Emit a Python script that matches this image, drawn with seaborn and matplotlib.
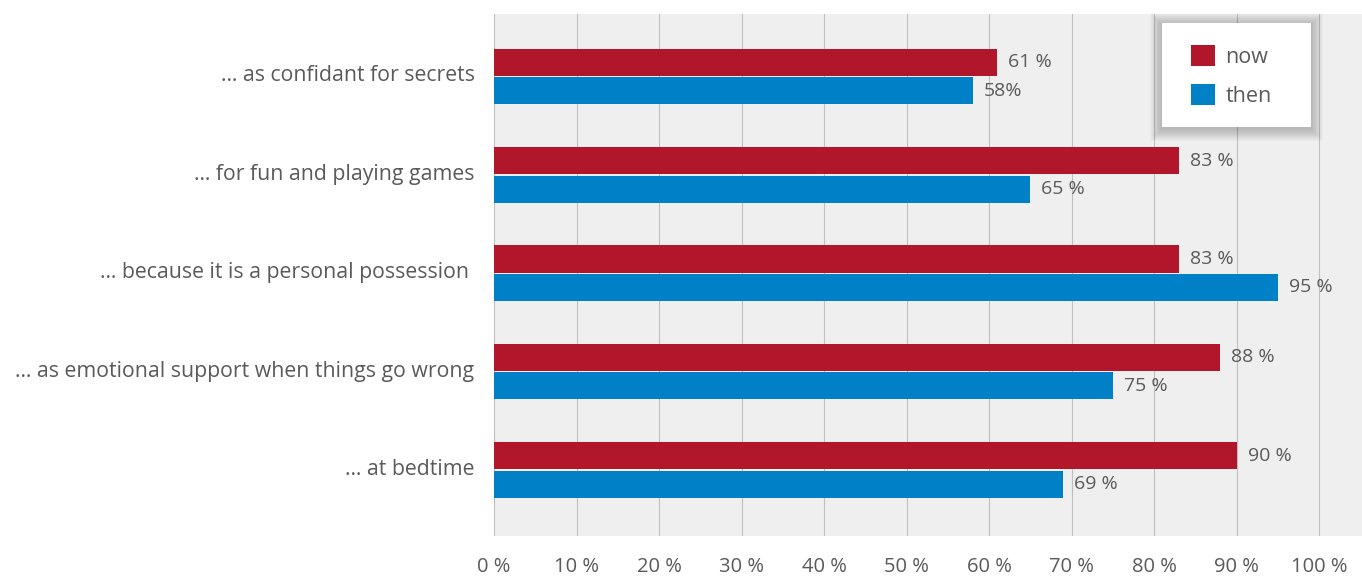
import matplotlib
matplotlib.use("Agg")
import matplotlib.pyplot as plt
from matplotlib.patches import Rectangle
from matplotlib.transforms import ScaledTranslation
import pandas as pd
import seaborn as sns

# Reasons for keeping a cuddly toy, now vs. then
categories = [
    "… as confidant for secrets",
    "… for fun and playing games",
    "… because it is a personal possession ",
    "… as emotional support when things go wrong",
    "… at bedtime",
]
series = ["now", "then"]
now_values = [61, 83, 83, 88, 90]
then_values = [58, 65, 95, 75, 69]
now_labels = ["61 %", "83 %", "83 %", "88 %", "90 %"]
then_labels = ["58%", "65 %", "95 %", "75 %", "69 %"]
x_ticks = list(range(0, 101, 10))
x_tick_labels = [f"{t} %" for t in x_ticks]

RED = "#b2162b"
BLUE = "#0080c6"
TEXT = "#5a5a5a"

sns.set_theme(style="white")
plt.rcParams["font.family"] = ["Open Sans", "DejaVu Sans"]

df = pd.DataFrame({
    "category": categories * 2,
    "series": [series[0]] * len(now_values) + [series[1]] * len(then_values),
    "value": now_values + then_values,
})

W, H = 1362, 576
fig = plt.figure(figsize=(W / 100, H / 100), dpi=100)
ax = fig.add_axes([494 / W, 40 / H, 868 / W, 522 / H])

sns.barplot(
    data=df, x="value", y="category", hue="series",
    order=categories, hue_order=series, palette=[RED, BLUE],
    orient="h", width=0.58, gap=0.05, saturation=1,
    linewidth=0, legend=False, ax=ax,
)

ax.set_xlim(0, 105.2)
ax.set_ylim(4.671, -0.635)
ax.set_facecolor("#efefef")
ax.grid(axis="x", color="#bfbfbf", linewidth=0.8)
ax.grid(axis="y", visible=False)
ax.set_axisbelow(True)
for sp in ax.spines.values():
    sp.set_visible(False)

ax.set_xticks(x_ticks, x_tick_labels)
ax.tick_params(axis="x", length=0, pad=15, labelsize=14.5, labelcolor=TEXT)
ax.tick_params(axis="y", length=0, pad=14, labelsize=15.3, labelcolor=TEXT)
ax.set_xlabel("")
ax.set_ylabel("")
lift = ScaledTranslation(0, 0.03, fig.dpi_scale_trans)
for lab in ax.get_yticklabels():
    lab.set_transform(lab.get_transform() + lift)

# value labels next to each bar
ax.bar_label(ax.containers[0], labels=now_labels, padding=8, fontsize=14, color=TEXT)
ax.bar_label(ax.containers[1], labels=then_labels, padding=8, fontsize=14, color=TEXT)

# legend: white card with a soft shadow
bx, by, bw, bh = 1162, H - 127, 149, 104
px = 1 / 100
for d in range(1, 13):
    ax.add_patch(Rectangle(
        ((bx - d) * px, (by - d - 2) * px), (bw + 2 * d) * px, (bh + 2 * d) * px,
        transform=fig.dpi_scale_trans, facecolor="black", edgecolor="none",
        alpha=0.02, zorder=6, clip_on=False,
    ))
ax.add_patch(Rectangle(
    (bx * px, by * px), bw * px, bh * px, transform=fig.dpi_scale_trans,
    facecolor="white", edgecolor="none", zorder=7, clip_on=False,
))

leg = ax.legend(
    ax.containers, series, loc="upper left",
    bbox_to_anchor=((1191 - 494) / 868, (536 - 45) / 522),
    frameon=False, borderpad=0, borderaxespad=0,
    handlelength=1.1, handleheight=1.1, handletextpad=0.5,
    labelspacing=0.78, fontsize=15.5, labelcolor=TEXT,
)
leg.set_zorder(10)

fig.savefig("out.png", dpi=100)
